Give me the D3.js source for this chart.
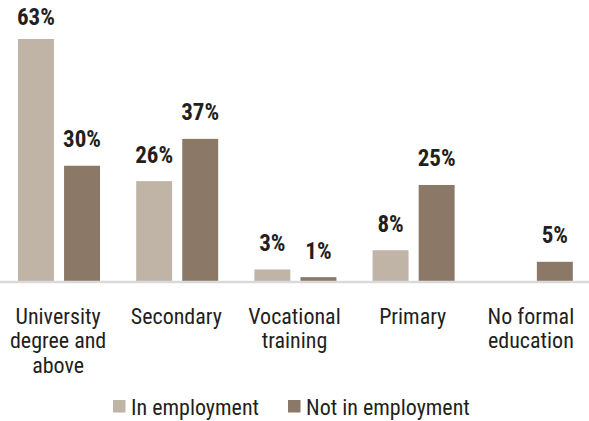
<!DOCTYPE html>
<html>
<head>
<meta charset="utf-8">
<script src="https://cdn.jsdelivr.net/npm/d3@7"></script>
<style>
  body { margin: 0; background: #fff; }
  svg text { font-family: "Roboto Condensed", "Liberation Sans", Arial, sans-serif; fill: #231f20; }
</style>
</head>
<body>
<svg id="chart"></svg>
<script>
const categories = ["University degree and above", "Secondary", "Vocational training", "Primary", "No formal education"];
const categoryLines = [["University", "degree and", "above"], ["Secondary"], ["Vocational", "training"], ["Primary"], ["No formal", "education"]];
const seriesNames = ["In employment", "Not in employment"];
const inEmployment = [63, 26, 3, 8, null];
const notInEmployment = [30, 37, 1, 25, 5];
const seriesColors = ["#c0b4a6", "#8b7866"];

const width = 589;
const height = 421;
const baseY = 281;

const svg = d3.select("#chart")
  .attr("width", width)
  .attr("height", height);

const x0 = d3.scaleBand()
  .domain(categories)
  .range([0, 591]);

const x1 = d3.scaleBand()
  .domain(seriesNames)
  .range([18, 100])
  .paddingInner(0.22);

const y = d3.scaleLinear()
  .domain([0, 63])
  .range([baseY, 39]);

const color = d3.scaleOrdinal().domain(seriesNames).range(seriesColors);

// one row per bar
const bars = [];
categories.forEach((c, i) => {
  bars.push({ cat: c, series: seriesNames[0], value: inEmployment[i] });
  bars.push({ cat: c, series: seriesNames[1], value: notInEmployment[i] });
});
const shown = bars.filter(d => d.value != null);

svg.append("g")
  .selectAll("rect")
  .data(shown)
  .enter().append("rect")
  .attr("x", d => x0(d.cat) + x1(d.series))
  .attr("y", d => y(d.value))
  .attr("width", x1.bandwidth())
  .attr("height", d => baseY - y(d.value))
  .attr("fill", d => color(d.series));

// baseline
svg.append("line")
  .attr("x1", 0)
  .attr("x2", width)
  .attr("y1", baseY + 1)
  .attr("y2", baseY + 1)
  .attr("stroke", "#d9d9d9")
  .attr("stroke-width", 2.5);

// value labels
svg.append("g")
  .selectAll("text")
  .data(shown)
  .enter().append("text")
  .attr("text-anchor", "middle")
  .attr("font-weight", "bold")
  .attr("font-size", 23)
  .attr("x", d => x0(d.cat) + x1(d.series) + x1.bandwidth() / 2)
  .attr("y", d => Math.max(y(d.value) - 18.5, 25))
  .text(d => d.value + "%");

// category labels
const catG = svg.append("g")
  .selectAll("text")
  .data(categories)
  .enter().append("text")
  .attr("text-anchor", "middle")
  .attr("font-size", 22)
  .attr("transform", d => `translate(${x0(d) + x0.bandwidth() / 2 - 1},323.5)`);

catG.selectAll("tspan")
  .data((d, i) => categoryLines[i])
  .enter().append("tspan")
  .attr("x", 0)
  .attr("dy", (d, i) => i === 0 ? 0 : 24.7)
  .text(d => d);

// legend
const legendX = [113, 288];
const legend = svg.append("g")
  .selectAll("g")
  .data(seriesNames)
  .enter().append("g")
  .attr("transform", (d, i) => `translate(${legendX[i]},400)`);

legend.append("rect")
  .attr("width", 12.5)
  .attr("height", 12.5)
  .attr("fill", d => color(d));

legend.append("text")
  .attr("font-size", 22)
  .attr("x", 18)
  .attr("y", 15)
  .text(d => d);
</script>
</body>
</html>
